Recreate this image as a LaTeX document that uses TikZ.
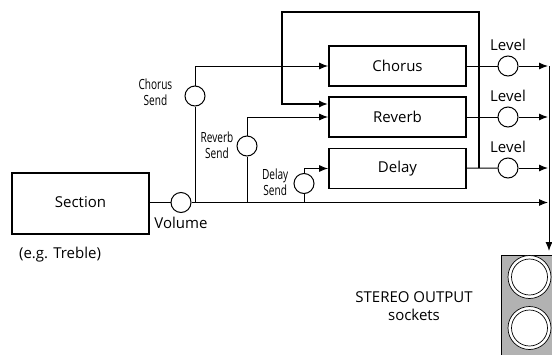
\documentclass[tikz,border=0pt]{standalone}
\usepackage{fontspec}
\setmainfont{Open Sans}
\newfontfamily\narrowfont[FakeStretch=0.72]{Open Sans}
\usetikzlibrary{positioning,arrows.meta}
\tikzset{
  fx/.style={draw, line width=1.7pt, minimum width=137pt, minimum height=40pt, inner sep=0pt},
  knob/.style={circle, draw, line width=1pt, minimum size=20pt, inner sep=0pt},
  sig/.style={line width=1pt},
  sigarr/.style={sig, -{Latex[length=9pt,width=7pt]}},
  fback/.style={line width=2.4pt, -{Latex[length=9pt,width=7pt]}},
  sendlbl/.style={font=\narrowfont\fontsize{14}{16}\selectfont, align=center, inner sep=0pt},
  socket/.style={circle, draw, fill=white, line width=0.7pt, inner sep=0pt}
}
\begin{document}
\begin{tikzpicture}[x=1pt, y=-1pt, font=\fontsize{15}{17}\selectfont]
            \useasboundingbox (0,0) rectangle (552,354);
            % Nodes
            \node[fx, minimum width=137pt, minimum height=61pt] (section) at (80.5,203.5) {\raisebox{3pt}{Section}};
            \node[fx] (chorus) at (397.5,66) {Chorus};
            \node[fx] (reverb) at (397.5,117) {Reverb};
            \node[fx] (delay) at (397.5,168.5) {Delay};

            \node[knob] (volume) at (181,202.5) {};
            \node[knob] (csend) at (195,96) {};
            \node[knob] (rsend) at (247,146) {};
            \node[knob] (dsend) at (304,183.5) {};
            \node[knob] (lv1) at (508,66) {};
            \node[knob] (lv2) at (508,117) {};
            \node[knob] (lv3) at (508,168) {};

            \coordinate (cbase) at (195,202.5);
            \coordinate (rbase) at (247,202.5);
            \coordinate (dbase) at (304,202.5);
            \coordinate (fbstart) at (479,168);
            \coordinate (fbtop) at (282,12);
            \coordinate (out1) at (548,66);
            \coordinate (out2) at (548,117);
            \coordinate (out3) at (548,168);
            \coordinate (outmain) at (548,202.5);
            \coordinate (bustop) at (549,66);
            \coordinate (busend) at (549,251);

            % Labels
            \node[below=1pt of volume] {Volume};
            \node at (60,255) {(e.g. Treble)};
            \node[sendlbl, left=12pt of csend, yshift=4pt] {Chorus\\Send};
            \node[sendlbl, left=3pt of rsend, yshift=1pt] {Reverb\\Send};
            \node[sendlbl, left=5pt of dsend, yshift=1pt] {Delay\\Send};
            \foreach \k in {lv1,lv2,lv3}
              \node[above=0pt of \k, yshift=1pt] {Level};
            \node[align=center, font=\fontsize{15}{18}\selectfont] at (414,306) {STEREO OUTPUT\\sockets};

            % Sockets
            \draw[line width=0.9pt, fill=black!30] (501,255) rectangle (553,355);
            \foreach \y/\n in {277/sockA,328/sockB} {
              \node[socket, minimum size=43pt] (\n) at (529.5,\y) {};
              \node[socket, minimum size=36pt] at (\n) {};
            }

            % Edges
            \draw[sig] (section.east |- volume) -- (volume);
            \draw[sigarr] (volume) -- (outmain);
            \draw[sig] (cbase) -- (csend);
            \draw[sigarr] (csend) |- (chorus.west);
            \draw[sig] (rbase) -- (rsend);
            \draw[sigarr] (rsend) |- (reverb.west);
            \draw[sig] (dbase) -- (dsend);
            \draw[sigarr] (dsend) |- (delay.west);
            \draw[fback] (fbstart) |- (fbtop) |- ([yshift=13pt]reverb.west);
            \draw[sig] (chorus) -- (lv1);
            \draw[sig] (reverb) -- (lv2);
            \draw[sig] (delay) -- (lv3);
            \draw[sigarr] (lv1) -- (out1);
            \draw[sigarr] (lv2) -- (out2);
            \draw[sigarr] (lv3) -- (out3);
            \draw[sigarr] (bustop) -- (busend);
        \end{tikzpicture}
\end{document}
